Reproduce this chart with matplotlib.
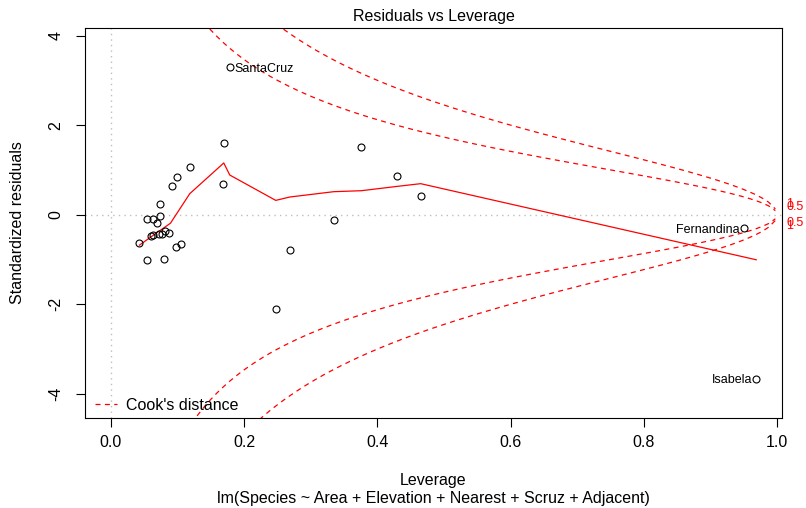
import numpy as np
import matplotlib
matplotlib.use("Agg")
import matplotlib.pyplot as plt

plt.rcParams["font.family"] = ["Liberation Sans", "DejaVu Sans"]

# leverage / standardized residuals for the 30 islands
leverage = [0.1785, 0.1695, 0.1686, 0.1185, 0.0986, 0.0920, 0.0740, 0.0546,
            0.0636, 0.0740, 0.0696, 0.0430, 0.0606, 0.0636, 0.0720, 0.0770,
            0.0810, 0.0870, 0.0980, 0.1056, 0.0546, 0.0800, 0.2685, 0.3760,
            0.4300, 0.4650, 0.3345, 0.2475, 0.9505, 0.9685]
std_resid = [3.29, 1.609, 0.686, 1.073, 0.849, 0.641, 0.239, -0.089,
             -0.089, -0.030, -0.179, -0.632, -0.485, -0.454, -0.425, -0.425,
             -0.373, -0.418, -0.730, -0.655, -1.020, -0.990, -0.789, 1.512,
             0.871, 0.417, -0.112, -2.108, -0.305, -3.660]

# labelled points
id_index = [0, 28, 29]
id_names = ["SantaCruz", "Fernandina", "Isabela"]
id_side = ["right", "left", "left"]

# red smoother (lowess) as drawn
smooth_x = [0.043, 0.0645, 0.0895, 0.1185, 0.1695, 0.1785, 0.2475, 0.2685,
            0.3345, 0.376, 0.430, 0.465, 0.9505, 0.9685]
smooth_y = [-0.68, -0.45, -0.19, 0.47, 1.155, 0.886, 0.32, 0.395,
            0.514, 0.536, 0.633, 0.693, -0.945, -1.006]

cook_levels = [0.5, 1]
n_coef = 6

x_ticks = [0.0, 0.2, 0.4, 0.6, 0.8, 1.0]
y_ticks = [-4, -2, 0, 2, 4]

W, H = 806, 508
fig = plt.figure(figsize=(W / 100, H / 100), dpi=100)
ax = fig.add_axes([85 / W, 1 - 418 / H, (782 - 85) / W, (418 - 28) / H])

lev = np.array(leverage)
res = np.array(std_resid)

# R-style limits
xr = (0.0, lev.max())
xlim = (xr[0] - 0.04 * (xr[1] - xr[0]), xr[1] + 0.04 * (xr[1] - xr[0]))
yr = (res.min(), res.max())
d = yr[1] - yr[0]
yr = (yr[0] - 0.08 * d, yr[1] + 0.08 * d)
d = yr[1] - yr[0]
ylim = (yr[0] - 0.04 * d, yr[1] + 0.04 * d)

ax.axvline(0, color="#bebebe", lw=1, ls=(0, (1, 3)), zorder=1)
ax.axhline(0, color="#bebebe", lw=1, ls=(0, (1, 3)), zorder=1)

ax.plot(lev, res, "o", mfc="none", mec="black", ms=5, mew=0.8, zorder=3)
ax.plot(smooth_x, smooth_y, color="red", lw=0.9, zorder=2)

for i, name, side in zip(id_index, id_names, id_side):
    off = 3 if side == "right" else -3
    ax.annotate(name, (lev[i], res[i]), xytext=(off, -1), textcoords="offset points",
                ha="left" if side == "right" else "right", va="center", fontsize=9)

# Cook's distance contours
dash = (0, (4, 3.5))
hh = np.linspace(min(lev.min(), lev.max() / 100), xlim[1], 101)
with np.errstate(invalid="ignore"):
    for crit in cook_levels:
        cl = np.sqrt(crit * n_coef * (1 - hh) / hh)
        ax.plot(hh, cl, color="red", lw=0.9, ls=dash, zorder=2)
        ax.plot(hh, -cl, color="red", lw=0.9, ls=dash, zorder=2,
                label="Cook's distance" if crit == cook_levels[0] else None)

xmax = min(0.99, xlim[1])
ymult = np.sqrt(n_coef * (1 - xmax) / xmax)
for crit in cook_levels:
    aty = np.sqrt(crit) * ymult
    for yv in (aty, -aty):
        ax.annotate(str(crit), (1.0, yv), xycoords=ax.get_yaxis_transform(),
                    xytext=(3, 0), textcoords="offset points", ha="left", va="center",
                    fontsize=9, color="red", annotation_clip=False)

ax.set_xlim(xlim)
ax.set_ylim(ylim)
ax.set_xticks(x_ticks)
ax.set_xticklabels([f"{v:.1f}" for v in x_ticks])
ax.set_yticks(y_ticks)
ax.set_yticklabels([str(v) for v in y_ticks], rotation=90, va="center")
ax.tick_params(direction="out", length=6.5, width=0.8, labelsize=11.5, color="black")
ax.tick_params(axis="x", pad=6)
ax.tick_params(axis="y", pad=9)
for sp in ax.spines.values():
    sp.set_linewidth(0.8)
    sp.set_color("black")

ax.legend(loc="lower left", bbox_to_anchor=(0.0143, 0.0128), frameon=False,
          borderaxespad=0, borderpad=0, handlelength=1.4, handletextpad=0.56,
          fontsize=11.5)

fig.text(433.5 / W, 1 - 16 / H, "Residuals vs Leverage", ha="center", va="center", fontsize=11.5)
fig.text(433.5 / W, 1 - 481 / H, "Leverage", ha="center", va="center", fontsize=11.5)
fig.text(433.5 / W, 1 - 499 / H, "lm(Species ~ Area + Elevation + Nearest + Scruz + Adjacent)",
         ha="center", va="center", fontsize=11.5)
fig.text(18 / W, 1 - 223 / H, "Standardized residuals", ha="center", va="center",
         rotation=90, fontsize=11.5)

fig.savefig("out.png", dpi=100)
